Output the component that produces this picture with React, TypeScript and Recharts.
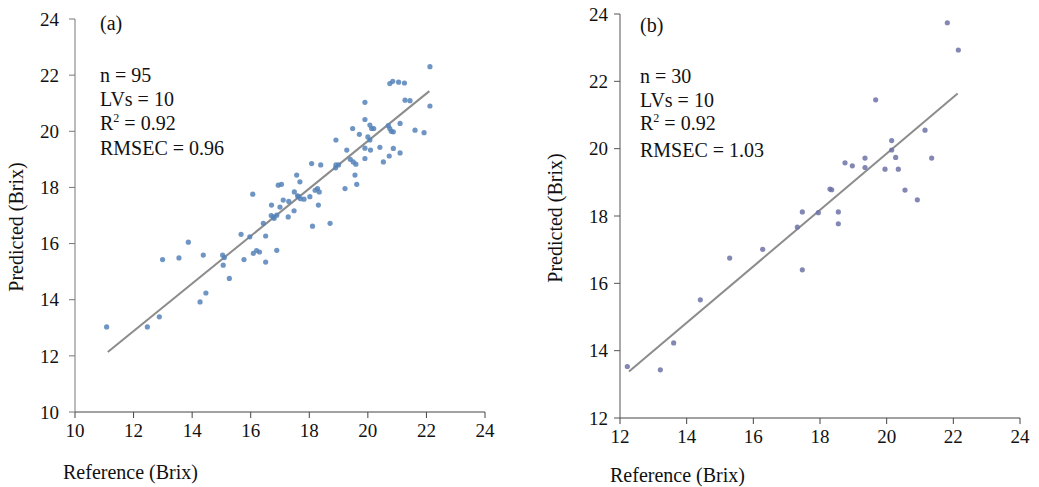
import React from "react";
import { ScatterChart, Scatter, XAxis, YAxis, ReferenceLine } from "recharts";

// Panel (a): calibration set
const refA = [
  11.08, 12.47, 12.88, 12.99, 13.55, 13.87, 14.38, 14.27, 14.47, 15.04,
  15.06, 15.27, 15.67, 15.77, 15.97, 16.09, 16.2, 16.51, 16.51, 16.89,
  16.43, 16.71, 16.77, 16.89, 17.11, 17.28, 17.48, 16.07, 16.94, 17.05,
  17.49, 17.63, 17.82, 18.02, 17.57, 17.68, 18.08, 18.11, 18.28, 18.34,
  18.31, 18.39, 18.71, 18.91, 18.91, 19.22, 19.28, 19.5, 19.59, 19.56,
  19.62, 19.48, 19.71, 19.9, 19.9, 19.9, 20.07, 20.13, 20.07, 20.09,
  20.41, 20.53, 20.7, 20.75, 20.87, 20.73, 20.87, 21.1, 20.75, 20.85,
  21.05, 21.25, 21.1, 21.27, 21.44, 21.61, 21.92, 22.12, 22.12, 16.8,
  17.0, 17.6, 19.0, 20.0, 20.8, 16.3, 17.3, 18.9, 19.4, 17.7,
  18.2, 20.2, 16.7, 19.9, 15.1,
];
const predA = [
  13.03, 13.03, 13.39, 15.43, 15.49, 16.05, 15.59, 13.92, 14.24, 15.59,
  15.23, 14.76, 16.33, 15.43, 16.24, 15.65, 15.75, 16.27, 15.34, 15.76,
  16.72, 17.37, 16.95, 17.01, 17.55, 16.95, 17.17, 17.76, 18.08, 18.11,
  17.84, 17.67, 17.58, 17.67, 18.44, 18.2, 18.85, 16.62, 17.96, 17.84,
  17.37, 18.8, 16.72, 19.69, 18.8, 17.96, 19.33, 18.91, 18.83, 18.44,
  18.11, 20.1, 19.89, 21.03, 20.42, 19.03, 20.22, 20.1, 19.69, 19.33,
  19.43, 18.91, 20.2, 20.1, 19.98, 19.12, 19.39, 19.23, 21.7, 21.78,
  21.75, 21.72, 20.28, 21.11, 21.09, 20.04, 19.95, 20.9, 22.3, 16.9,
  17.3, 17.7, 18.8, 19.8, 20.0, 15.7, 17.5, 18.7, 19.0, 17.6,
  17.9, 20.1, 17.0, 19.4, 15.5,
];
const lineA = [
  { x: 11.12, y: 12.14 },
  { x: 22.1, y: 21.43 },
];

// Panel (b): validation set
const refB = [
  12.22, 13.21, 13.61, 14.41, 15.29, 16.28, 17.32, 17.47, 17.47, 17.95,
  18.3, 18.35, 18.55, 18.55, 18.75, 18.97, 19.35, 19.35, 19.67, 19.95,
  20.15, 20.15, 20.27, 20.35, 20.55, 20.92, 21.15, 21.35, 21.82, 22.15,
];
const predB = [
  13.53, 13.43, 14.23, 15.51, 16.75, 17.01, 17.67, 16.4, 18.12, 18.1,
  18.8, 18.78, 18.12, 17.77, 19.58, 19.49, 19.72, 19.44, 21.45, 19.39,
  20.24, 19.96, 19.74, 19.39, 18.77, 18.48, 20.55, 19.72, 23.74, 22.93,
];
const lineB = [
  { x: 12.27, y: 13.38 },
  { x: 22.13, y: 21.64 },
];

const ticksA = [10, 12, 14, 16, 18, 20, 22, 24];
const ticksB = [12, 14, 16, 18, 20, 22, 24];

const notesA = ["(a)", "n = 95", "LVs = 10", "0.92", "RMSEC = 0.96"];
const notesB = ["(b)", "n = 30", "LVs = 10", "0.92", "RMSEC = 1.03"];

const dataA = refA.map((x, i) => ({ x, y: predA[i] }));
const dataB = refB.map((x, i) => ({ x, y: predB[i] }));

const FONT = "Liberation Serif, DejaVu Serif, serif";

const Dot = (color: string) => (props: any) => {
  const { cx, cy } = props;
  if (cx == null || cy == null) return null;
  return <circle cx={cx} cy={cy} r={2.6} fill={color} fillOpacity={0.85} />;
};

const tickStyle = { fill: "#111", fontSize: 19, fontFamily: FONT };

function Notes({ x, ys, notes }: { x: number; ys: number[]; notes: string[] }) {
  return (
    <g style={{ fontFamily: FONT }} fontSize={20} fill="#111">
      <text x={x} y={ys[0]}>{notes[0]}</text>
      <text x={x} y={ys[1]}>{notes[1]}</text>
      <text x={x} y={ys[2]}>{notes[2]}</text>
      <text x={x} y={ys[3]}>
        R<tspan fontSize={12} dy={-8}>2</tspan>
        <tspan dy={8}> = {notes[3]}</tspan>
      </text>
      <text x={x} y={ys[4]}>{notes[4]}</text>
    </g>
  );
}

export default function App() {
  return (
    <div style={{ position: "absolute", left: 0, top: 0, width: 1039, height: 487, background: "#fff", fontFamily: FONT }}>
      <div style={{ position: "absolute", left: 0, top: 0 }}>
        <ScatterChart width={520} height={487} margin={{ top: 19, right: 35, bottom: 0, left: 0 }}>
          <XAxis
            type="number"
            dataKey="x"
            domain={[10, 24]}
            ticks={ticksA}
            height={75}
            stroke="#444"
            tickSize={6}
            tickMargin={6}
            tick={tickStyle}
            allowDataOverflow
          />
          <YAxis
            type="number"
            dataKey="y"
            domain={[10, 24]}
            ticks={ticksA}
            width={75}
            stroke="#777"
            tickSize={6}
            tickMargin={10}
            tick={tickStyle}
            allowDataOverflow
          />
          <ReferenceLine segment={lineA} stroke="#8c8c8c" strokeWidth={2} />
          <Scatter data={dataA} shape={Dot("#5582b8")} isAnimationActive={false} />
        </ScatterChart>
      </div>
      <div style={{ position: "absolute", left: 540, top: 0 }}>
        <ScatterChart width={499} height={487} margin={{ top: 14, right: 19, bottom: 0, left: 0 }}>
          <XAxis
            type="number"
            dataKey="x"
            domain={[12, 24]}
            ticks={ticksB}
            height={69}
            stroke="#444"
            tickSize={6}
            tickMargin={6}
            tick={tickStyle}
            allowDataOverflow
          />
          <YAxis
            type="number"
            dataKey="y"
            domain={[12, 24]}
            ticks={ticksB}
            width={80}
            stroke="#555"
            tickSize={6}
            tickMargin={6}
            tick={tickStyle}
            allowDataOverflow
          />
          <ReferenceLine segment={lineB} stroke="#8c8c8c" strokeWidth={2} />
          <Scatter data={dataB} shape={Dot("#6d72a6")} isAnimationActive={false} />
        </ScatterChart>
      </div>
      <svg
        width={1039}
        height={487}
        style={{ position: "absolute", left: 0, top: 0, pointerEvents: "none" }}
      >
        <Notes x={100} ys={[30, 82, 106, 130, 155]} notes={notesA} />
        <Notes x={640} ys={[32, 83, 107, 130, 157]} notes={notesB} />
        <g style={{ fontFamily: FONT }} fontSize={20} fill="#111">
          <text x={63} y={479}>Reference (Brix)</text>
          <text x={610} y={482}>Reference (Brix)</text>
          <text x={0} y={0} textAnchor="middle" transform="translate(23 227) rotate(-90)">
            Predicted (Brix)
          </text>
          <text x={0} y={0} textAnchor="middle" transform="translate(562 218) rotate(-90)">
            Predicted (Brix)
          </text>
        </g>
      </svg>
    </div>
  );
}
